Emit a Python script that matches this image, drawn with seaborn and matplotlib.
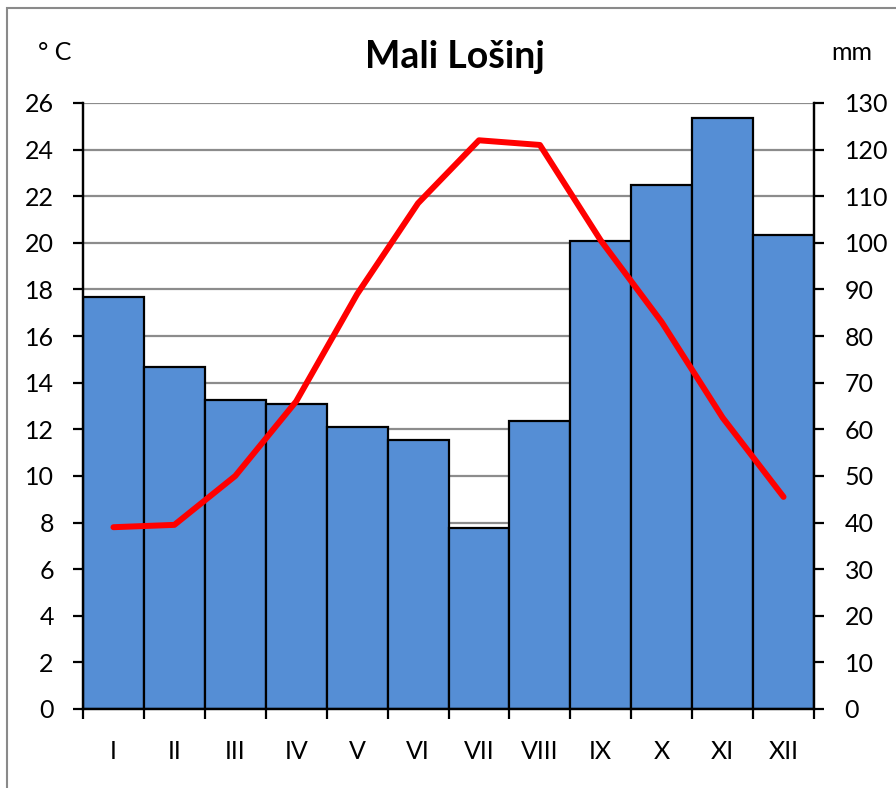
import numpy as np
import pandas as pd
import matplotlib
matplotlib.use("Agg")
import matplotlib.pyplot as plt
from matplotlib.patches import Rectangle
import seaborn as sns

# Climate data for Mali Losinj
months = ['I', 'II', 'III', 'IV', 'V', 'VI', 'VII', 'VIII', 'IX', 'X', 'XI', 'XII']
precip_mm = [88.4, 73.4, 66.3, 65.5, 60.5, 57.7, 38.8, 61.8, 100.4, 112.4, 126.8, 101.7]
temp_c = [7.8, 7.9, 10.0, 13.2, 17.8, 21.7, 24.4, 24.2, 20.1, 16.6, 12.5, 9.1]

df = pd.DataFrame({'month': months, 'precip': precip_mm, 'temp': temp_c,
                   'pos': np.arange(len(months))})

sns.set_style("white")
plt.rcParams['font.family'] = ['Lato', 'DejaVu Sans']
plt.rcParams['text.color'] = 'black'

fig = plt.figure(figsize=(8.96, 7.88), dpi=100)
ax = fig.add_axes([83 / 896, 1 - 709 / 788, (814 - 83) / 896, (709 - 103) / 788])

# bars = precipitation (right-hand scale)
sns.barplot(data=df, x='month', y='precip', color='#558ED5', saturation=1,
            edgecolor='black', linewidth=1.6, width=1.0, ax=ax, zorder=2)
ax.set_ylim(0, 130)
ax.set_yticks(np.arange(0, 131, 10))
ax.set_axisbelow(True)
ax.grid(axis='y', color='#8c8c8c', linewidth=1.6, zorder=0)
ax.set_xlim(-0.5, 11.5)
ax.set_xlabel('')
ax.set_ylabel('')

# line = temperature (left-hand scale)
ax2 = ax.twinx()
sns.lineplot(data=df, x='pos', y='temp', color='#ff0000', linewidth=4.3, ax=ax2)
ax2.set_ylim(0, 26)
ax2.set_yticks(np.arange(0, 27, 2))
ax2.set_xlim(-0.5, 11.5)
ax2.set_xlabel('')
ax2.set_ylabel('')

for a in (ax, ax2):
    for s in a.spines.values():
        s.set_color('black')
        s.set_linewidth(1.6)
    a.spines['top'].set_visible(False)

# precipitation ticks on the right, temperature ticks on the left
ax.tick_params(axis='y', which='major', direction='out', length=7, width=1.6,
               pad=15, labelsize=18, colors='black',
               right=True, left=False, labelright=True, labelleft=False)
ax2.tick_params(axis='y', which='major', direction='out', length=7, width=1.6,
                pad=14, labelsize=18, colors='black',
                left=True, right=False, labelleft=True, labelright=False)

# month labels centred, tick marks at bar boundaries
ax.set_xticks(np.arange(12))
ax.set_xticklabels(months)
ax.set_xticks(np.arange(-0.5, 12, 1), minor=True)
ax.tick_params(axis='x', which='major', length=0, pad=22, labelsize=18,
               colors='black')
ax.tick_params(axis='x', which='minor', direction='out', length=7, width=1.6,
               bottom=True, color='black')

fig.text(455 / 896, 1 - 57 / 788, 'Mali Lošinj', ha='center', va='center',
         fontsize=27, fontweight='bold', color='black')
fig.text(55 / 896, 1 - 52 / 788, '° C', ha='center', va='center', fontsize=18,
         color='black')
fig.text(852 / 896, 1 - 52 / 788, 'mm', ha='center', va='center', fontsize=18,
         color='black')

# chart frame (top and left edges visible)
fig.patches.append(Rectangle((7 / 896, -0.5), 2, 0.5 + (1 - 8 / 788),
                             transform=fig.transFigure, fill=False,
                             edgecolor='#8a8a8a', linewidth=1.5))

fig.savefig('out.png', dpi=100)
